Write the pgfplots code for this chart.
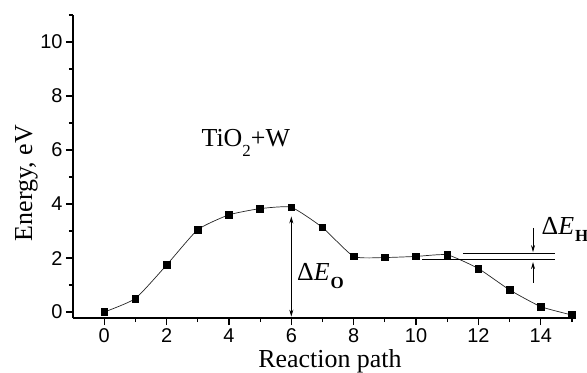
\documentclass[border=0pt]{standalone}
\usepackage{fontspec}
\setmainfont{Liberation Serif}
\newfontfamily\arial{Liberation Sans}
\usepackage{pgfplots}
\pgfplotsset{compat=1.18}
\usetikzlibrary{arrows.meta,calc}
\newcommand\sub[2]{\raisebox{-#1}{\fontsize{17}{17}\selectfont #2}}

\begin{document}
\begin{tikzpicture}
\begin{axis}[
  scale only axis, width=499bp, height=303bp,
  xmin=-1, xmax=15, ymin=-0.22, ymax=11,
  axis lines*=left,
  xtick={0,2,...,14}, ytick={0,2,...,10},
  minor xtick={1,3,...,15}, minor ytick={1,3,...,11},
  tick align=outside, major tick length=7bp, minor tick length=4bp,
  axis line style={line width=1.6bp},
  every tick/.style={line width=1.2bp, black},
  ticklabel style={font=\arial\fontsize{20}{20}\selectfont},
  /pgf/number format/assume math mode=true,
  xlabel={Reaction path}, ylabel={Energy, eV},
  label style={font=\fontsize{26}{26}\selectfont},
  xlabel style={at={(axis description cs:0.515,-0.162)}, anchor=base},
  ylabel style={at={(axis description cs:-0.082,0.445)}, anchor=base},
  clip=false,
]
\addplot[black!85, line width=0.7bp, smooth, tension=0.3, mark=square*, mark size=3.3bp, mark options={black, solid}] coordinates {
(0,0) (1,0.5) (2,1.74) (3,3.05) (4,3.6) (5,3.83) (6,3.88) (7,3.13) (8,2.06) (9,2.02) (10,2.06) (11,2.12) (12,1.61) (13,0.82) (14,0.2) (15,-0.11)
};
\node[anchor=base, inner sep=0pt, font=\fontsize{26}{26}\selectfont] at (axis cs:4.54,6.13) {TiO\sub{10bp}{2}+W};
\draw[line width=0.8bp, {Stealth[length=7bp,width=4bp]}-{Stealth[length=7bp,width=4bp]}] (axis cs:6,-0.17) -- (axis cs:6,3.54);
\node[anchor=base west, inner sep=0pt, font=\fontsize{26}{26}\selectfont] at (axis cs:6.18,1.18) {Δ\textit{E}\kern1bp\sub{8bp}{\textbf{O}}};
\draw[line width=0.8bp] (axis cs:11.5,2.17) -- (axis cs:14.45,2.17);
\draw[line width=0.8bp] (axis cs:10.2,1.95) -- (axis cs:14.45,1.95);
\draw[line width=0.8bp, -{Stealth[length=7bp,width=4bp]}] (axis cs:13.75,3.12) -- (axis cs:13.75,2.22);
\draw[line width=0.8bp, -{Stealth[length=7bp,width=4bp]}] (axis cs:13.75,1.08) -- (axis cs:13.75,1.85);
\node[anchor=base west, inner sep=0pt, font=\fontsize{26}{26}\selectfont] at (axis cs:14.02,2.86) {Δ\textit{E}\kern1bp\sub{7bp}{\textbf{H}}};
\end{axis}
\pgfresetboundingbox
\path[use as bounding box] ($(current axis.south west)+(-73bp,-55bp)$) rectangle ($(current axis.north east)+(15bp,15bp)$);
\end{tikzpicture}
\end{document}
